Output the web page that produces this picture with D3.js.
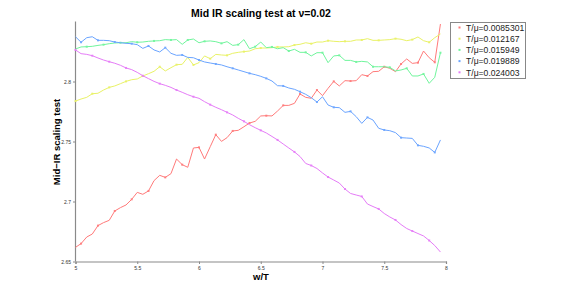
<!DOCTYPE html>
<html>
<head>
<meta charset="utf-8">
<script src="https://cdn.jsdelivr.net/npm/d3@7"></script>
<style>
  body { margin: 0; background: #fff; }
  svg text { font-family: "Liberation Sans", Arial, sans-serif; }
</style>
</head>
<body>
<svg id="chart" width="581" height="294"></svg>
<script>
// chart values
var wT = [5.000,5.045,5.091,5.136,5.182,5.227,5.273,5.318,5.364,5.409,5.455,5.500,5.545,5.591,5.636,5.682,5.727,5.773,5.818,5.864,5.909,5.955,
  6.000,6.045,6.091,6.136,6.182,6.227,6.273,6.318,6.364,6.409,6.455,6.500,6.545,6.591,6.636,6.682,6.727,6.773,6.818,6.864,6.909,6.955,
  7.000,7.045,7.091,7.136,7.182,7.227,7.273,7.318,7.364,7.409,7.455,7.500,7.545,7.591,7.636,7.682,7.727,7.773,7.818,7.864,7.909,7.955];

var seriesNames = ["T/\u03bc=0.0085301", "T/\u03bc=0.012167", "T/\u03bc=0.015949", "T/\u03bc=0.019889", "T/\u03bc=0.024003"];

var red = [2.6618,2.6649,2.6704,2.6729,2.6799,2.6824,2.6843,2.6921,2.6949,2.6971,
  2.7018,2.7076,2.7060,2.7088,2.7174,2.7218,2.7201,2.7232,2.7354,2.7307,
  2.7285,2.7446,2.7451,2.7354,2.7457,2.7557,2.7501,2.7532,2.7588,2.7593,
  2.7623,2.7654,2.7668,2.7713,2.7715,2.7713,2.7754,2.7801,2.7801,2.7818,
  2.7896,2.7868,2.7860,2.7929,2.7882,2.7943,2.8001,2.7963,2.8007,2.8004,
  2.8007,2.8057,2.8046,2.8082,2.8085,2.8123,2.8110,2.8082,2.8146,2.8188,
  2.8151,2.8157,2.8254,2.8198,2.8160,2.8479];
var yellow = [2.7837,2.7854,2.7868,2.7898,2.7902,2.7929,2.7951,2.7963,2.7982,2.8001,
  2.8015,2.8021,2.8046,2.8065,2.8085,2.8123,2.8088,2.8115,2.8140,2.8143,
  2.8201,2.8138,2.8157,2.8213,2.8190,2.8226,2.8221,2.8218,2.8235,2.8243,
  2.8249,2.8254,2.8273,2.8279,2.8279,2.8282,2.8288,2.8288,2.8290,2.8304,
  2.8310,2.8323,2.8315,2.8329,2.8329,2.8340,2.8335,2.8332,2.8335,2.8335,
  2.8346,2.8346,2.8357,2.8343,2.8343,2.8346,2.8349,2.8357,2.8352,2.8340,
  2.8349,2.8371,2.8340,2.8327,2.8365,2.8396];
var green = [2.8271,2.8288,2.8290,2.8293,2.8301,2.8307,2.8315,2.8321,2.8323,2.8323,
  2.8332,2.8327,2.8329,2.8335,2.8338,2.8340,2.8349,2.8346,2.8349,2.8310,
  2.8346,2.8354,2.8323,2.8335,2.8338,2.8332,2.8318,2.8332,2.8301,2.8307,
  2.8349,2.8273,2.8290,2.8329,2.8282,2.8288,2.8273,2.8282,2.8254,2.8268,
  2.8243,2.8243,2.8213,2.8240,2.8240,2.8157,2.8213,2.8218,2.8176,2.8176,
  2.8163,2.8168,2.8163,2.8123,2.8123,2.8123,2.8118,2.8088,2.8096,2.8110,
  2.8046,2.8046,2.8063,2.7985,2.8035,2.8240];
var blue = [2.8373,2.8327,2.8365,2.8373,2.8343,2.8343,2.8340,2.8329,2.8323,2.8318,
  2.8315,2.8307,2.8276,2.8296,2.8263,2.8246,2.8282,2.8235,2.8218,2.8221,
  2.8201,2.8198,2.8179,2.8163,2.8154,2.8146,2.8138,2.8123,2.8110,2.8096,
  2.8082,2.8068,2.8057,2.8043,2.8026,2.8004,2.7965,2.7963,2.7946,2.7935,
  2.7915,2.7893,2.7865,2.7829,2.7873,2.7804,2.7785,2.7782,2.7743,2.7751,
  2.7707,2.7651,2.7701,2.7679,2.7610,2.7596,2.7590,2.7574,2.7532,2.7529,
  2.7526,2.7468,2.7460,2.7446,2.7409,2.7513];
var magenta = [2.8263,2.8232,2.8226,2.8215,2.8196,2.8179,2.8165,2.8152,2.8135,2.8113,
  2.8099,2.8076,2.8048,2.8024,2.8001,2.7982,2.7968,2.7951,2.7929,2.7910,
  2.7890,2.7873,2.7860,2.7832,2.7807,2.7785,2.7765,2.7743,2.7721,2.7693,
  2.7668,2.7640,2.7615,2.7593,2.7571,2.7542,2.7513,2.7479,2.7446,2.7413,
  2.7375,2.7317,2.7300,2.7275,2.7238,2.7204,2.7179,2.7154,2.7104,2.7067,
  2.7054,2.7042,2.6979,2.6958,2.6938,2.6900,2.6871,2.6846,2.6808,2.6775,
  2.6754,2.6733,2.6713,2.6675,2.6633,2.6579];

var xTicks = [5, 5.5, 6, 6.5, 7, 7.5, 8];
var yTicks = [2.65, 2.7, 2.75, 2.8];

var colors = ["#ff7a7a", "#e9f266", "#70f59c", "#6aa4ff", "#e57cf7"];
var allSeries = [red, yellow, green, blue, magenta];

var svg = d3.select("#chart");

var x = d3.scaleLinear().domain([5, 8]).range([75.5, 446]);
var y = d3.scaleLinear().domain([2.65, 2.85]).range([261.5, 21.5]);

// axes: plain grey, tiny labels like the original
var xAxis = svg.append("g")
  .attr("transform", "translate(0,261.5)")
  .call(d3.axisBottom(x).tickValues(xTicks).tickSize(2.5).tickPadding(2).tickFormat(d3.format("")));
var yAxis = svg.append("g")
  .attr("transform", "translate(75.5,0)")
  .call(d3.axisLeft(y).tickValues(yTicks).tickSize(2.5).tickPadding(2).tickFormat(d3.format("")));
[xAxis, yAxis].forEach(function(a) {
  a.select(".domain").attr("stroke", "#8a8a8a").attr("stroke-width", 1.2);
  a.selectAll(".tick line").attr("stroke", "#8a8a8a");
  a.selectAll(".tick text").attr("font-size", 5).attr("fill", "#333")
    .attr("font-family", "Liberation Sans, Arial, sans-serif");
});
yAxis.select(".domain").attr("d", "M0," + y(2.65) + "V" + y(2.85));

var line = d3.line()
  .x(function(d, i) { return x(wT[i]); })
  .y(function(d) { return y(d); });

allSeries.forEach(function(s, k) {
  svg.append("path")
    .datum(s)
    .attr("d", line)
    .attr("fill", "none")
    .attr("stroke", colors[k])
    .attr("stroke-width", 1);

  // small point marks on some of the samples
  svg.append("g").selectAll("rect")
    .data(s.map(function(v, i) { return [wT[i], v, i]; }).filter(function(d) { return (d[2] + k) % 3 === 1; }))
    .enter().append("rect")
    .attr("x", function(d) { return x(d[0]) - 1; })
    .attr("y", function(d) { return y(d[1]) - 1; })
    .attr("width", 2).attr("height", 2)
    .attr("fill", colors[k])
    .attr("opacity", 0.9);
});

// titles
svg.append("text")
  .attr("x", 261).attr("y", 17)
  .attr("text-anchor", "middle")
  .attr("font-size", 10.5).attr("font-weight", "bold")
  .text("Mid IR scaling test at \u03bd=0.02");

svg.append("text")
  .attr("x", 261).attr("y", 280)
  .attr("text-anchor", "middle")
  .attr("font-size", 9.5).attr("font-weight", "bold")
  .text("w/T");

svg.append("text")
  .attr("transform", "translate(60,142) rotate(-90)")
  .attr("text-anchor", "middle")
  .attr("font-size", 9.5).attr("font-weight", "bold")
  .text("Mid\u2212IR scaling test");

// legend
var legend = svg.append("g");
legend.append("rect")
  .attr("x", 450.5).attr("y", 22.5)
  .attr("width", 75).attr("height", 56)
  .attr("fill", "#fff").attr("stroke", "#888").attr("stroke-width", 1);

var entry = legend.selectAll("g.entry")
  .data(seriesNames)
  .enter().append("g")
  .attr("transform", function(d, i) { return "translate(0," + (27.5 + i * 11.2) + ")"; });
entry.append("rect")
  .attr("x", 458.5).attr("y", -1).attr("width", 2).attr("height", 2)
  .attr("fill", function(d, i) { return colors[i]; });
entry.append("text")
  .attr("x", 466).attr("y", 3.3)
  .attr("font-size", 8.6).attr("fill", "#222")
  .text(function(d) { return d; });
</script>
</body>
</html>
